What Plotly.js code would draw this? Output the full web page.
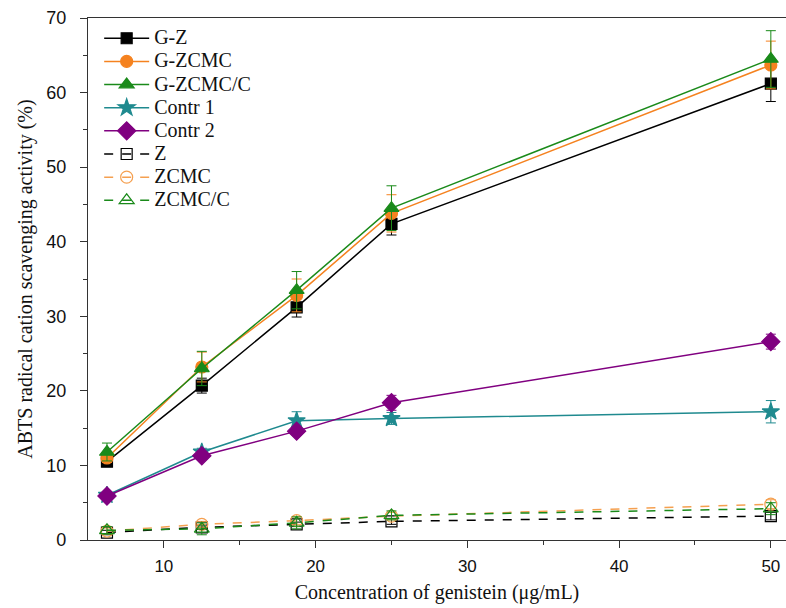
<!DOCTYPE html>
<html>
<head>
<meta charset="utf-8">
<script src="https://cdn.plot.ly/plotly-3.0.1.min.js"></script>
<style>html,body{margin:0;padding:0;background:#fff;}#chart{width:786px;height:608px;}</style>
</head>
<body>
<div id="chart"></div>
<script>
const conc = [6.25, 12.5, 18.75, 25, 50];

const gZ = [10.5, 20.7, 31.2, 42.4, 61.2];
const gZErr = [0.5, 1.0, 1.3, 1.5, 2.4];
const gZCMC = [11.0, 23.2, 32.8, 43.8, 63.7];
const gZCMCErr = [0.6, 2.0, 2.2, 2.5, 3.2];
const gZCMCC = [11.8, 23.0, 33.5, 44.5, 64.5];
const gZCMCCErr = [1.2, 2.3, 2.5, 3.0, 3.8];
const contr1 = [6.0, 11.8, 16.0, 16.3, 17.2];
const contr1Err = [0.3, 0.5, 1.2, 0.8, 1.5];
const contr2 = [5.9, 11.3, 14.6, 18.4, 26.6];
const contr2Err = [0.3, 0.5, 0.5, 1.0, 1.0];
const z = [1.0, 1.7, 2.1, 2.5, 3.2];
const zErr = [0.3, 0.3, 0.3, 0.4, 0.5];
const zcmc = [1.2, 2.1, 2.6, 3.2, 4.8];
const zcmcErr = [0.4, 0.4, 0.5, 0.5, 0.6];
const zcmcc = [1.3, 1.5, 2.3, 3.3, 4.2];
const zcmccErr = [0.5, 0.8, 0.8, 0.6, 0.8];

const names = ["G-Z", "G-ZCMC", "G-ZCMC/C", "Contr 1", "Contr 2", "Z", "ZCMC", "ZCMC/C"];

function tr(name, y, err, color, symbol, dash, size) {
  return {
    x: conc, y: y, name: '<span style="font-size:20px">' + name + '</span>',
    type: 'scatter', mode: 'lines+markers',
    line: {color: color, width: 1.5, dash: dash},
    marker: {symbol: symbol, size: size, color: color, line: {color: color, width: 1.2}},
    error_y: {type: 'data', array: err, visible: true, color: color, thickness: 1, width: 5}
  };
}

const data = [
  tr(names[0], gZ, gZErr, '#000000', 'square', 'solid', 11),
  tr(names[1], gZCMC, gZCMCErr, '#f5821f', 'circle', 'solid', 12),
  tr(names[2], gZCMCC, gZCMCCErr, '#1a8a1a', 'triangle-up', 'solid', 13),
  tr(names[3], contr1, contr1Err, '#1f8a8f', 'star', 'solid', 13),
  tr(names[4], contr2, contr2Err, '#800080', 'diamond', 'solid', 14),
  tr(names[5], z, zErr, '#000000', 'square-open', 'dash', 11),
  tr(names[6], zcmc, zcmcErr, '#f5a050', 'circle-open', 'dash', 12),
  tr(names[7], zcmcc, zcmccErr, '#1a8a1a', 'triangle-up-open', 'dash', 13)
];

const layout = {
  width: 786, height: 608,
  margin: {l: 88, r: 0, t: 18, b: 68},
  paper_bgcolor: '#fff', plot_bgcolor: '#fff',
  showlegend: true,
  legend: {
    x: 0.016, y: 0.993, xanchor: 'left', yanchor: 'top',
    font: {family: 'Liberation Serif, Times New Roman, serif', size: 15.5, color: '#111'},
    bgcolor: 'rgba(0,0,0,0)', itemwidth: 45, tracegroupgap: 0
  },
  xaxis: {
    range: [5, 51], showgrid: false, zeroline: false,
    showline: true, linecolor: '#333', linewidth: 1.2, mirror: true,
    ticks: 'outside', ticklen: 7, tickwidth: 1.2, tickcolor: '#333',
    tickvals: [10, 20, 30, 40, 50], ticklabelstandoff: 3,
    minor: {tickvals: [15, 25, 35, 45], ticks: 'outside', ticklen: 4, tickwidth: 1.2, tickcolor: '#333'},
    tickfont: {family: 'Liberation Sans, Arial, sans-serif', size: 17, color: '#111'},
    title: {text: 'Concentration of genistein (\u03bcg/mL)', font: {family: 'Liberation Serif, Times New Roman, serif', size: 20, color: '#111'}, standoff: 10}
  },
  yaxis: {
    range: [0, 70], showgrid: false, zeroline: false,
    showline: true, linecolor: '#333', linewidth: 1.2,
    ticks: 'outside', ticklen: 7, tickwidth: 1.2, tickcolor: '#333',
    tickvals: [0, 10, 20, 30, 40, 50, 60, 70], ticklabelstandoff: 10,
    minor: {tickvals: [5, 15, 25, 35, 45, 55, 65], ticks: 'outside', ticklen: 4, tickwidth: 1.2, tickcolor: '#333'},
    tickfont: {family: 'Liberation Sans, Arial, sans-serif', size: 18, color: '#111'},
    title: {text: 'ABTS radical cation scavenging activity (%)', font: {family: 'Liberation Serif, Times New Roman, serif', size: 20, color: '#111'}, standoff: 8}
  }
};

Plotly.newPlot('chart', data, layout, {displayModeBar: false, responsive: false});
</script>
</body>
</html>
